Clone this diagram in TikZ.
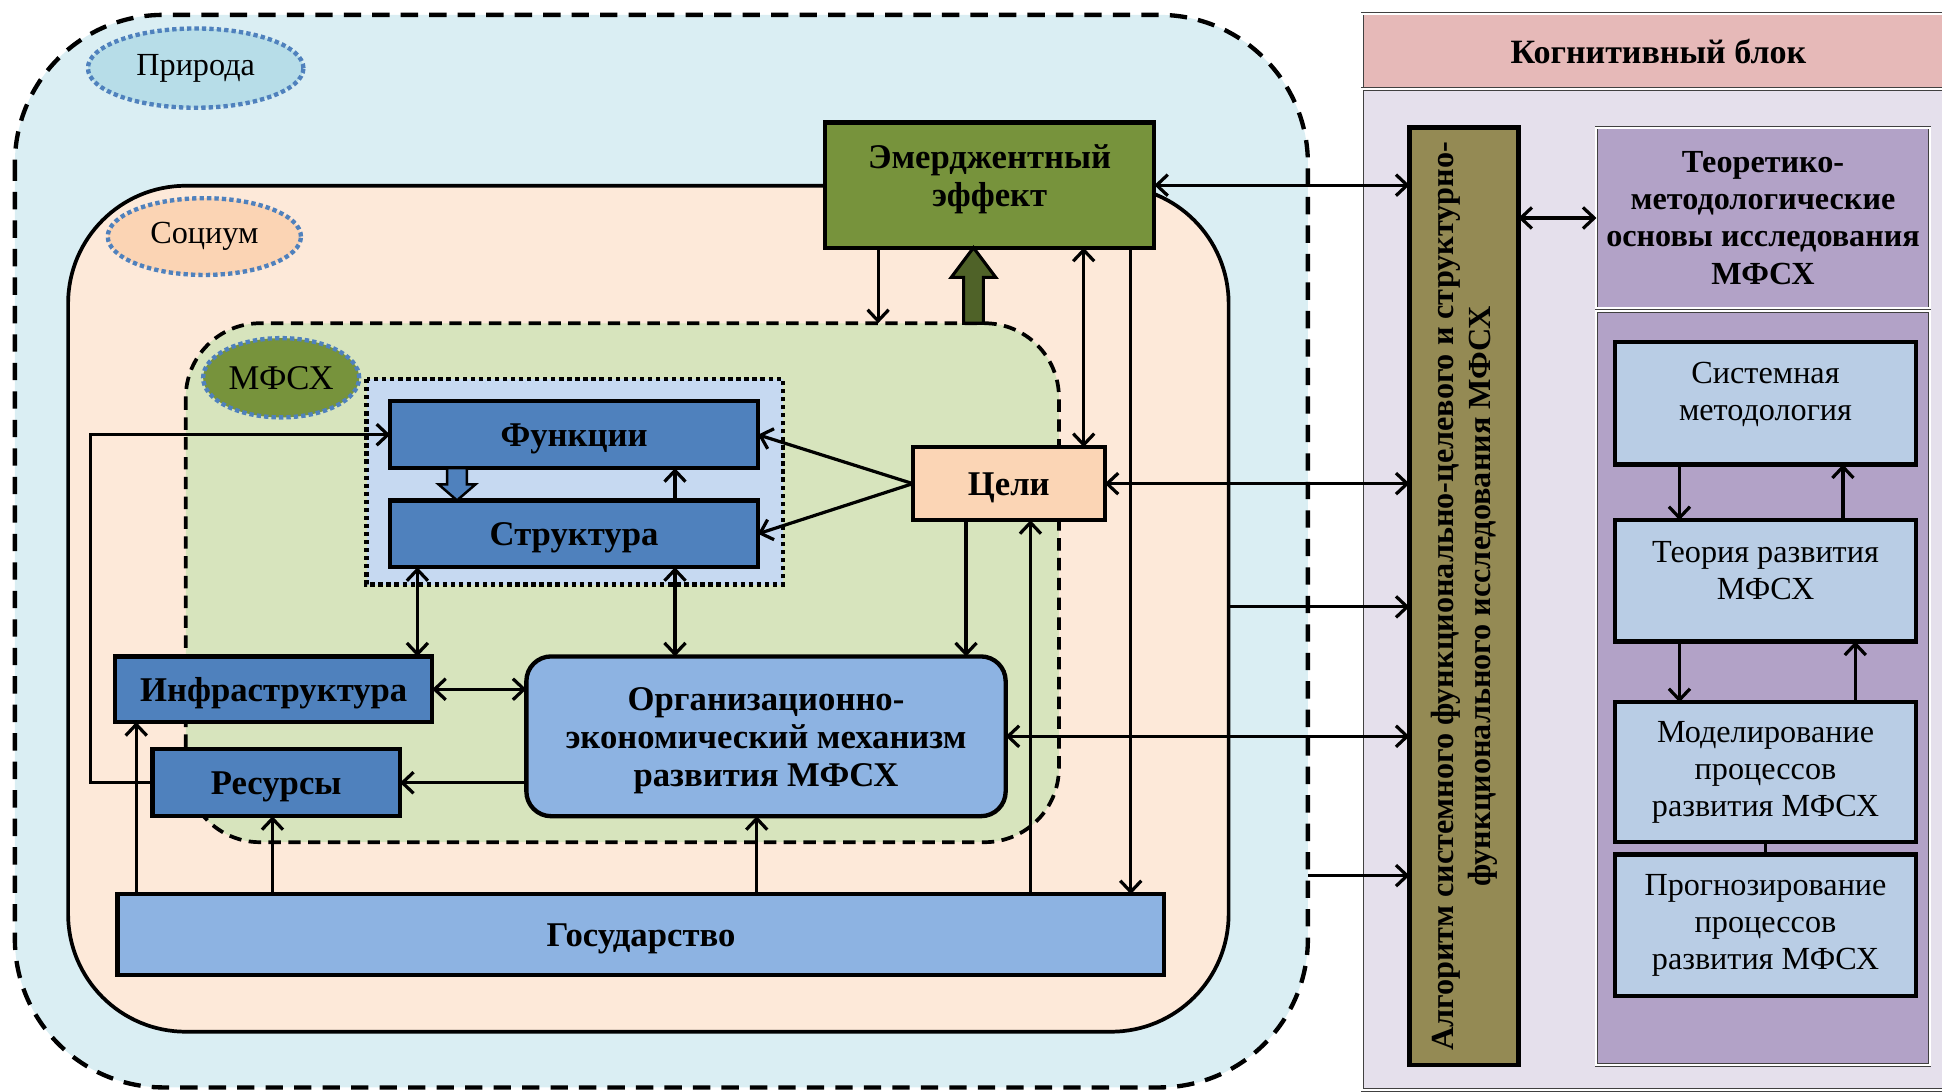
\documentclass[tikz,border=0pt]{standalone}
\usepackage{fontspec}
\setmainfont{Liberation Serif}
\usetikzlibrary{arrows.meta,calc,shapes.geometric}

\definecolor{priroda}{HTML}{DAEEF3}
\definecolor{priell}{HTML}{B7DDE8}
\definecolor{socium}{HTML}{FDE9D9}
\definecolor{socell}{HTML}{FBD4B4}
\definecolor{mfsfill}{HTML}{D7E4BD}
\definecolor{mfsell}{HTML}{77933C}
\definecolor{grpfill}{HTML}{C6D9F1}
\definecolor{fbox}{HTML}{4F81BD}
\definecolor{lbox}{HTML}{8DB3E2}
\definecolor{celifill}{HTML}{FBD5B5}
\definecolor{emfill}{HTML}{77933C}
\definecolor{darkgreen}{HTML}{4F6228}
\definecolor{dotblue}{HTML}{4F81BD}
\definecolor{coghead}{HTML}{E6B9B8}
\definecolor{cogbody}{HTML}{E5E0EC}
\definecolor{algfill}{HTML}{948A54}
\definecolor{purp}{HTML}{B2A2C7}
\definecolor{rblue}{HTML}{B9CDE5}

\begin{document}
\begin{tikzpicture}[x=1pt,y=-1pt,
  every node/.style={inner sep=0pt, outer sep=0pt},
  lbl/.style={font=\fontsize{28}{31}\selectfont\bfseries, align=center},
  oneline/.style={text height=23pt, text depth=4pt},
  rtxt/.style={font=\fontsize{26}{30}\selectfont, align=center},
  rbold/.style={font=\fontsize{26}{30}\selectfont\bfseries, align=center},
  box/.style={draw=black, line width=3.5pt, rectangle},
  rbox/.style={box, fill=rblue, minimum width=243pt},
  ell/.style={ellipse, draw=dotblue, line width=3.5pt, dash pattern=on 3.5pt off 2.5pt},
  dbl/.style={draw=black!75, double=white, double distance=1.6pt, line width=0.7pt, rectangle},
  conn/.style={line width=2.6pt},
  arr/.style={conn, -{Straight Barb[length=9pt,width=17pt]}},
  darr/.style={conn, {Straight Barb[length=9pt,width=17pt]}-{Straight Barb[length=9pt,width=17pt]}},
  blockarrow/.style={draw=black, line join=miter}
]
\useasboundingbox (0,0) rectangle (1568,881);
\begin{scope}
\clip (0,0) rectangle (1568,881);

% --- nested environment regions ---
\path[fill=priroda, draw=black, line width=3.5pt, dash pattern=on 14pt off 9pt,
      rounded corners=120pt] (12,12) rectangle (1056,878);
\path[fill=socium, draw=black, line width=3pt, rounded corners=95pt]
      (55,150) rectangle (992,833);
\path[fill=mfsfill, draw=black, line width=3pt, dash pattern=on 10pt off 6pt,
      rounded corners=60pt] (150,261) rectangle (855,680);
\path[fill=grpfill, draw=black, line width=3.5pt, dash pattern=on 3.5pt off 3pt]
      (296,306) rectangle (632,472);

% region labels
\node[ell, fill=priell, minimum width=174pt, minimum height=64pt,
      font=\fontsize{26}{30}\selectfont] (pri) at (158,55) {Природа};
\node[ell, fill=socell, minimum width=156pt, minimum height=62pt,
      font=\fontsize{26}{30}\selectfont] (soc) at (165,191) {Социум};
\node[ell, fill=mfsell, minimum width=126pt, minimum height=64pt,
      font=\fontsize{28}{32}\selectfont] (mfe) at (227,305) {МФСХ};

% region edge points used by connectors
\coordinate (mfsN1) at (709,261);
\coordinate (mfsN2) at (786,261);
\coordinate (socE) at (992,490);
\coordinate (priE) at (1056,707);
\foreach \x in {73,110,220,337,369,545,611,780,832,875,913,1356,1488,1498}
  {\coordinate (c\x) at (\x,0);}

% --- system blocks ---
\node[box, fill=emfill, minimum width=266pt, minimum height=101pt] (emerg) at (799,149.5) {};
\node[lbl] (emergT) at ($(emerg.center)+(0,-5)$) {Эмерджентный\\эффект};
\node[box, fill=fbox, minimum width=297pt, minimum height=54pt, lbl, oneline] (func) at (463.5,351) {Функции};
\node[box, fill=fbox, minimum width=297pt, minimum height=54pt, lbl, oneline] (struct) at (463.5,431) {Структура};
\node[box, fill=celifill, minimum width=155pt, minimum height=59pt, lbl, oneline] (celi) at (814.5,390.5) {Цели};
\node[box, fill=fbox, minimum width=256pt, minimum height=53pt, lbl, oneline] (infra) at (221,556.5) {Инфраструктура};
\node[box, fill=fbox, minimum width=200pt, minimum height=54pt, lbl, oneline] (res) at (223,632) {Ресурсы};
\node[box, fill=lbox, rounded corners=20pt, minimum width=387pt, minimum height=129pt]
     (org) at (618.5,594.5) {};
\node[lbl] (orgT) at ($(org.center)+(0,3.5)$) {Организационно-\\экономический механизм\\развития МФСХ};
\node[box, fill=lbox, minimum width=845pt, minimum height=65pt, lbl, oneline] (gos) at (517.5,754.5) {Государство};

% --- cognitive block ---
\node[dbl, fill=coghead, minimum width=478pt, minimum height=61pt,
      font=\fontsize{27.5}{31}\selectfont\bfseries] (cog) at (1339,41.5) {Когнитивный блок};
\path[fill=cogbody, dbl] (1100,72) rectangle (1580,880);
\node[box, fill=algfill, minimum width=88pt, minimum height=757pt] (alg) at (1182,481.5) {};
\node[rbold, rotate=90] (algT) at (alg.center)
     {Алгоритм системного функционально-целевого и структурно-\\функционального исследования МФСХ};
\node[dbl, fill=purp, minimum width=269pt, minimum height=146pt, rbold] (teor) at (1423.5,176)
     {Теоретико-\\методологические\\основы исследования\\МФСХ};
\node[dbl, fill=purp, minimum width=269pt, minimum height=609pt] (lowp) at (1423.5,555.5) {};
\node[rbox, minimum height=99pt] (sysm) at (1425.5,325.5) {};
\node[rtxt] (sysmT) at ($(sysm.center)+(0,-7)$) {Системная\\методология};
\node[rbox, minimum height=98pt] (teorR) at (1425.5,469) {};
\node[rtxt] (teorRT) at ($(teorR.center)+(0,-8)$) {Теория развития\\МФСХ};
\node[rbox, minimum height=113pt, rtxt] (model) at (1425.5,623.5) {Моделирование\\процессов\\развития МФСХ};
\node[rbox, minimum height=114pt, rtxt] (prog) at (1425.5,747) {Прогнозирование\\процессов\\развития МФСХ};

% --- block arrows ---
\draw[blockarrow, fill=darkgreen, line width=2.5pt] (mfsN2 |- emerg.south)
  -- ++(18,24) -- ++(-10,0) -- ++(0,37) -- ++(-16,0) -- ++(0,-37) -- ++(-10,0) -- cycle;
\draw[blockarrow, fill=fbox, line width=2pt] (struct.north -| c369)
  -- ++(15,-13) -- ++(-7,0) -- ++(0,-13) -- ++(-16,0) -- ++(0,13) -- ++(-7,0) -- cycle;

% --- connectors ---
\draw[arr] (mfsN1 |- emerg.south) -- (mfsN1);
\draw[darr] (emerg.south -| c875) -- (celi.north -| c875);
\draw[arr] (emerg.south -| c913) -- (gos.north -| c913);
\draw[darr] (emerg.east) -- (emerg.east -| alg.west);
\draw[darr] (celi.east) -- (celi.east -| alg.west);
\draw[arr] (socE) -- (socE -| alg.west);
\draw[darr] (org.east) -- (org.east -| alg.west);
\draw[arr] (priE) -- (priE -| alg.west);
\draw[arr] (celi.south -| c780) -- (org.north -| c780);
\draw[arr] (gos.north -| c832) -- (celi.south -| c832);
\draw[arr] (celi.west) -- (func.east);
\draw[arr] (celi.west) -- (struct.east);
\draw[arr] (struct.north -| c545) -- (func.south -| c545);
\draw[darr] (struct.south -| c337) -- (infra.north -| c337);
\draw[darr] (struct.south -| c545) -- (org.north -| c545);
\draw[darr] (infra.east) -- (infra.east -| org.west);
\draw[arr] (res.east -| org.west) -- (res.east);
\draw[arr] (res.west) -- (res.west -| c73) -- (func.west -| c73) -- (func.west);
\draw[arr] (gos.north -| c110) -- (infra.south -| c110);
\draw[arr] (gos.north -| c220) -- (res.south -| c220);
\draw[arr] (gos.north -| c611) -- (org.south -| c611);
\draw[darr] (alg.east |- teor.west) -- (teor.west);
\draw[arr] (sysm.south -| c1356) -- (teorR.north -| c1356);
\draw[arr] (teorR.north -| c1488) -- (sysm.south -| c1488);
\draw[arr] (teorR.south -| c1356) -- (model.north -| c1356);
\draw[arr] (model.north -| c1498) -- (teorR.south -| c1498);
\draw[conn] (model.south) -- (prog.north);
\end{scope}
\end{tikzpicture}
\end{document}
